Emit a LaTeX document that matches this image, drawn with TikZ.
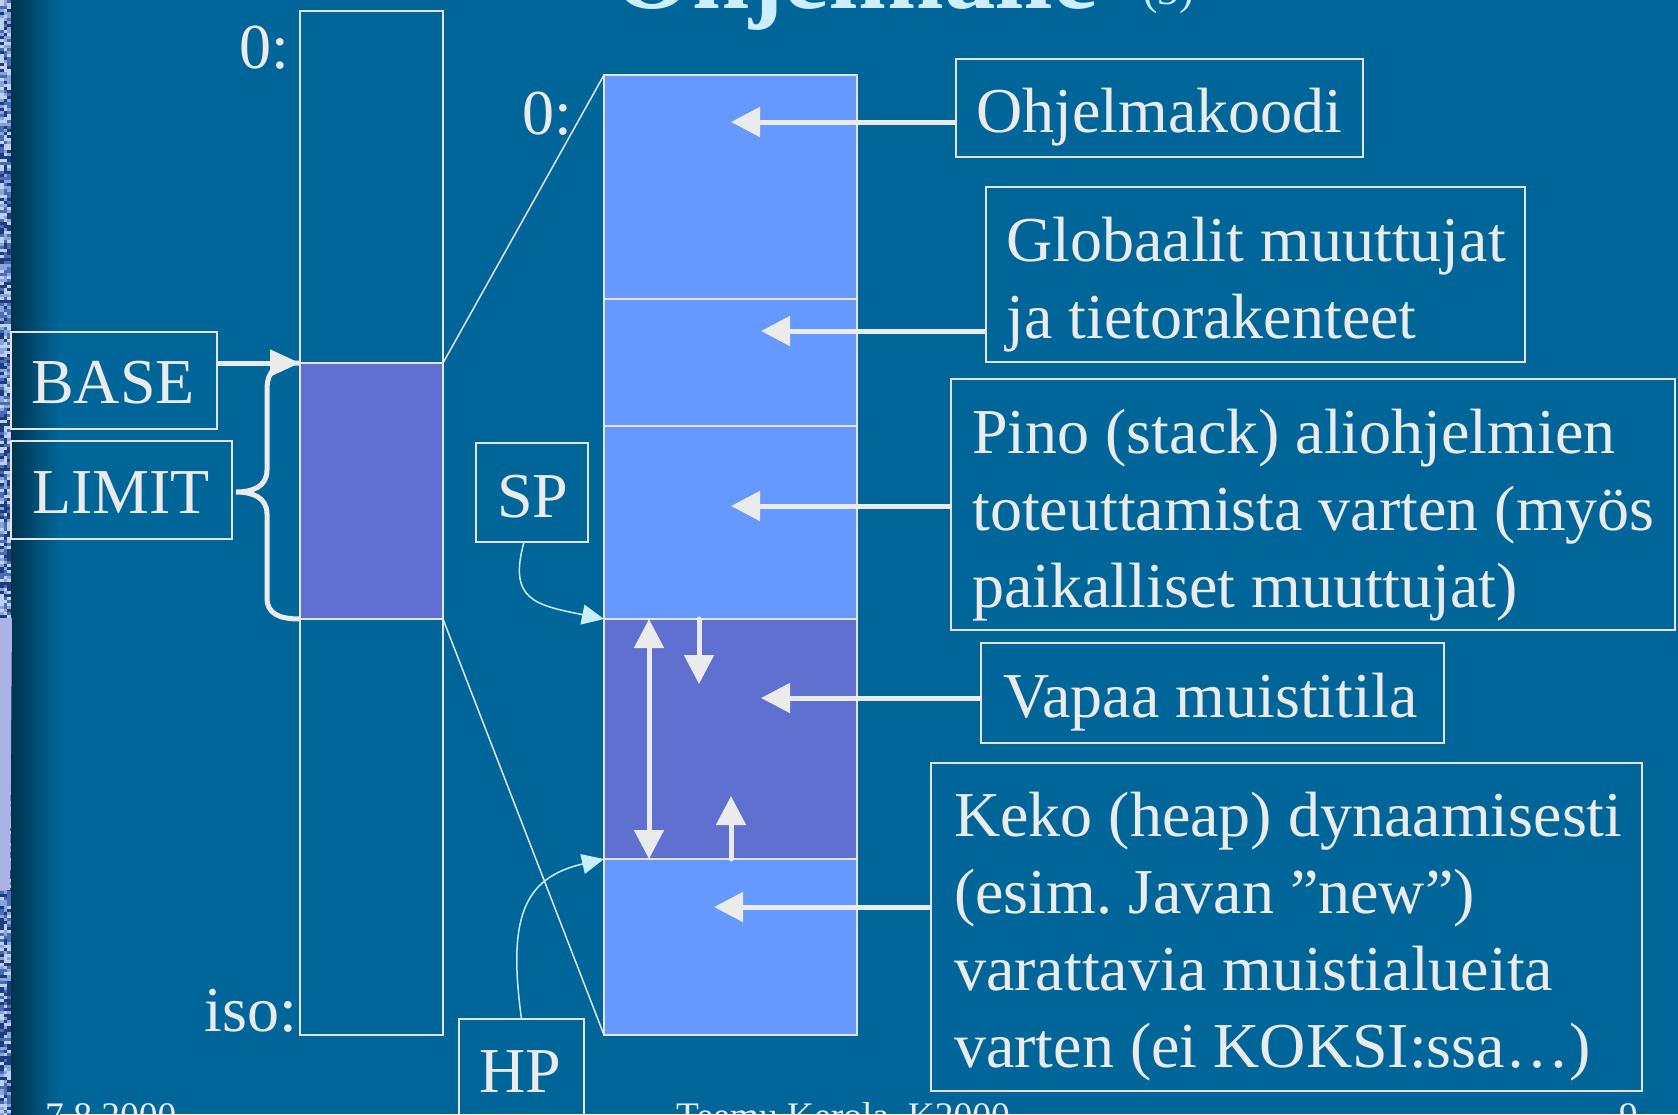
\documentclass[tikz,border=0pt]{standalone}
\usepackage{fontspec}
\setmainfont{Liberation Serif}
\usetikzlibrary{arrows.meta}
\frenchspacing
\definecolor{bg}{HTML}{006699}
\definecolor{bgdark}{HTML}{00344E}
\definecolor{lblue}{HTML}{6699FF}
\definecolor{purp}{HTML}{6070D0}
\definecolor{ink}{HTML}{EBEBEB}
\definecolor{edge}{HTML}{E4E4E4}
\definecolor{cyanink}{HTML}{C8EEFF}
\definecolor{titleink}{HTML}{CCEEFF}
\definecolor{lav}{HTML}{AAB2E6}
\definecolor{nz1}{HTML}{1E3C7A}
\definecolor{nz2}{HTML}{4A6CB4}
\definecolor{nz3}{HTML}{86A4DE}
\definecolor{nz4}{HTML}{BCD0F4}
\begin{document}
\frenchspacing
\begin{tikzpicture}[x=1pt,y=-1pt,
  seg/.style={draw=edge, line width=1.5pt, anchor=north west, inner sep=0pt, outer sep=0pt},
  lbox/.style={draw=edge, line width=1.8pt, anchor=north west, inner sep=0pt, outer sep=0pt},
  txt/.style={text=ink, font=\fontsize{64}{77}\selectfont, anchor=base west, inner sep=0pt},
  foot/.style={text=ink, font=\fontsize{37.5}{44}\selectfont, anchor=base west, inner sep=0pt},
  ptr/.style={draw=ink, line width=5pt, -{Triangle[length=29pt,width=29pt]}},
  dptr/.style={draw=ink, line width=5pt, {Triangle[length=29pt,width=29pt]}-{Triangle[length=29pt,width=29pt]}},
  sptr/.style={draw=ink, line width=5pt, line cap=round, -{Triangle[length=29pt,width=29pt]}},
  bptr/.style={draw=ink, line width=5pt, -{Triangle[length=30pt,width=26pt]}},
  reg/.style={draw=cyanink, line width=1.5pt, -{Triangle[length=22pt,width=20pt]}},
  thinline/.style={draw=edge, line width=1.5pt},
  bracestyle/.style={draw=ink, line width=5pt}
]
\useasboundingbox (0,0) rectangle (1678,1114);
\clip (0,0) rectangle (1678,1114);
% background
\fill[bg] (0,0) rectangle (1678,1114);
\shade[left color=bgdark, right color=bg] (11,0) rectangle (60,1114);
\pgfmathsetseed{7}
\foreach \r in {0,...,371}{
  \foreach \c in {0,1,2}{
    \pgfmathsetmacro\k{int(random(1,4))}
    \edef\tmp{\noexpand\fill[nz\k]}
    \tmp (\c*3.7,\r*3) rectangle ++(3.7,3);
  }
}
\fill[lav] (0,618) -- (12,618) -- (10,890) -- (0,890) -- cycle;

% title (cropped)
\node[text=titleink, font=\bfseries\fontsize{103}{110}\selectfont, anchor=base west, inner sep=0pt] (title) at (612,8) {Ohjelmalle};
\node[text=titleink, font=\fontsize{43}{50}\selectfont, anchor=base west, inner sep=0pt] (titlenum) at (1143,4) {(3)};

% left column
\node[seg, minimum width=143pt, minimum height=352pt] (lupper) at (300,11) {};
\node[seg, fill=purp, minimum width=143pt, minimum height=256pt] (lpurp) at (300,363) {};
\node[seg, minimum width=143pt, minimum height=416pt] (llower) at (300,619) {};

% middle column
\node[seg, fill=lblue, minimum width=253pt, minimum height=224pt] (code) at (604,75) {};
\node[seg, fill=lblue, minimum width=253pt, minimum height=127pt] (glob) at (604,299) {};
\node[seg, fill=lblue, minimum width=253pt, minimum height=193pt] (stack) at (604,426) {};
\node[seg, fill=purp, minimum width=253pt, minimum height=240pt] (free) at (604,619) {};
\node[seg, fill=lblue, minimum width=253pt, minimum height=176pt] (heap) at (604,859) {};

% zoom lines
\draw[thinline] (lpurp.north east) -- (code.north west);
\draw[thinline] (lpurp.south east) -- (heap.south west);

% address labels
\node[txt, anchor=base east] (zeroA) at (289,68) {0:};
\node[txt, anchor=base east] (zeroB) at (572,134) {0:};
\node[txt, anchor=base east] (iso) at (297,1031) {iso:};

% register boxes
\node[lbox, minimum width=206pt, minimum height=97pt] (base) at (11,332) {};
\node[lbox, minimum width=221pt, minimum height=98pt] (limit) at (11,441) {};
\node[lbox, minimum width=112pt, minimum height=99pt] (sp) at (476,443) {};
\node[lbox, minimum width=125pt, minimum height=120pt] (hp) at (459,1019) {};
\node[txt] (baset) at (31,403) {BASE};
\node[txt] (limitt) at (32,513) {LIMIT};
\node[txt] (spt) at (497,517) {SP};
\node[txt] (hpt) at (479,1092) {HP};

% BASE arrow and LIMIT brace
\draw[bptr] (base.east |- lpurp.north west) -- (lpurp.north west);
\draw[bracestyle] (lpurp.north west) .. controls (276,363) and (267,370) .. (267,390)
  -- (267,470) .. controls (267,487) and (252,492) .. (236,492)
  .. controls (252,492) and (267,497) .. (267,514)
  -- (267,598) .. controls (267,613) and (278,619) .. (lpurp.south west);

% SP / HP pointers
\draw[reg] ([xshift=-8pt]sp.south) .. controls (508,600) and (535,605) .. (free.north west);
\draw[reg] (hp.north) .. controls (508,920) and (522,878) .. (heap.north west);

% growth arrows in free area
\draw[dptr] ([xshift=45pt]free.north west) -- ([xshift=45pt]free.south west);
\draw[sptr] ([xshift=95pt]free.north west) -- ++(0,65);
\draw[sptr] ([xshift=127pt]free.south west) -- ++(0,-63);

% description boxes
\node[lbox, minimum width=407pt, minimum height=98pt] (ohj) at (956,59) {};
\node[lbox, minimum width=539pt, minimum height=175pt] (globb) at (986,187) {};
\node[lbox, minimum width=724pt, minimum height=251pt] (pinob) at (951,379) {};
\node[lbox, minimum width=463pt, minimum height=100pt] (vapb) at (981,643) {};
\node[lbox, minimum width=711pt, minimum height=328pt] (kekob) at (931,763) {};

\node[txt] (ohjt) at (976,132) {Ohjelmakoodi};
\node[txt] (globt1) at (1006,261) {Globaalit muuttujat};
\node[txt] (globt2) at (1006,338) {ja tietorakenteet};
\node[txt] (pinot1) at (972,453) {Pino (stack) aliohjelmien};
\node[txt] (pinot2) at (972,530) {toteuttamista varten (myös};
\node[txt] (pinot3) at (972,607) {paikalliset muuttujat)};
\node[txt] (vapt) at (1003,717) {Vapaa muistitila};
\node[txt] (kekot1) at (954,836) {Keko (heap) dynaamisesti};
\node[txt] (kekot2) at (954,913) {(esim. Javan ”new”)};
\node[txt] (kekot3) at (954,990) {varattavia muistialueita};
\node[txt] (kekot4) at (954,1067) {varten (ei KOKSI:ssa…)};

\coordinate (t1) at (731,122);
\coordinate (t2) at (761,331);
\coordinate (t3) at (731,506);
\coordinate (t4) at (761,698);
\coordinate (t5) at (714,907);
\draw[ptr] (ohj.west |- t1) -- (t1);
\draw[ptr] (globb.west |- t2) -- (t2);
\draw[ptr] (pinob.west |- t3) -- (t3);
\draw[ptr] (vapb.west |- t4) -- (t4);
\draw[ptr] (kekob.west |- t5) -- (t5);

% footer (cropped)
\node[foot] (date) at (45,1128) {7.8.2000};
\node[foot] (author) at (676,1128) {Teemu Kerola, K2000};
\node[foot, anchor=base east] (page) at (1638,1128) {9};
\end{tikzpicture}
\end{document}
